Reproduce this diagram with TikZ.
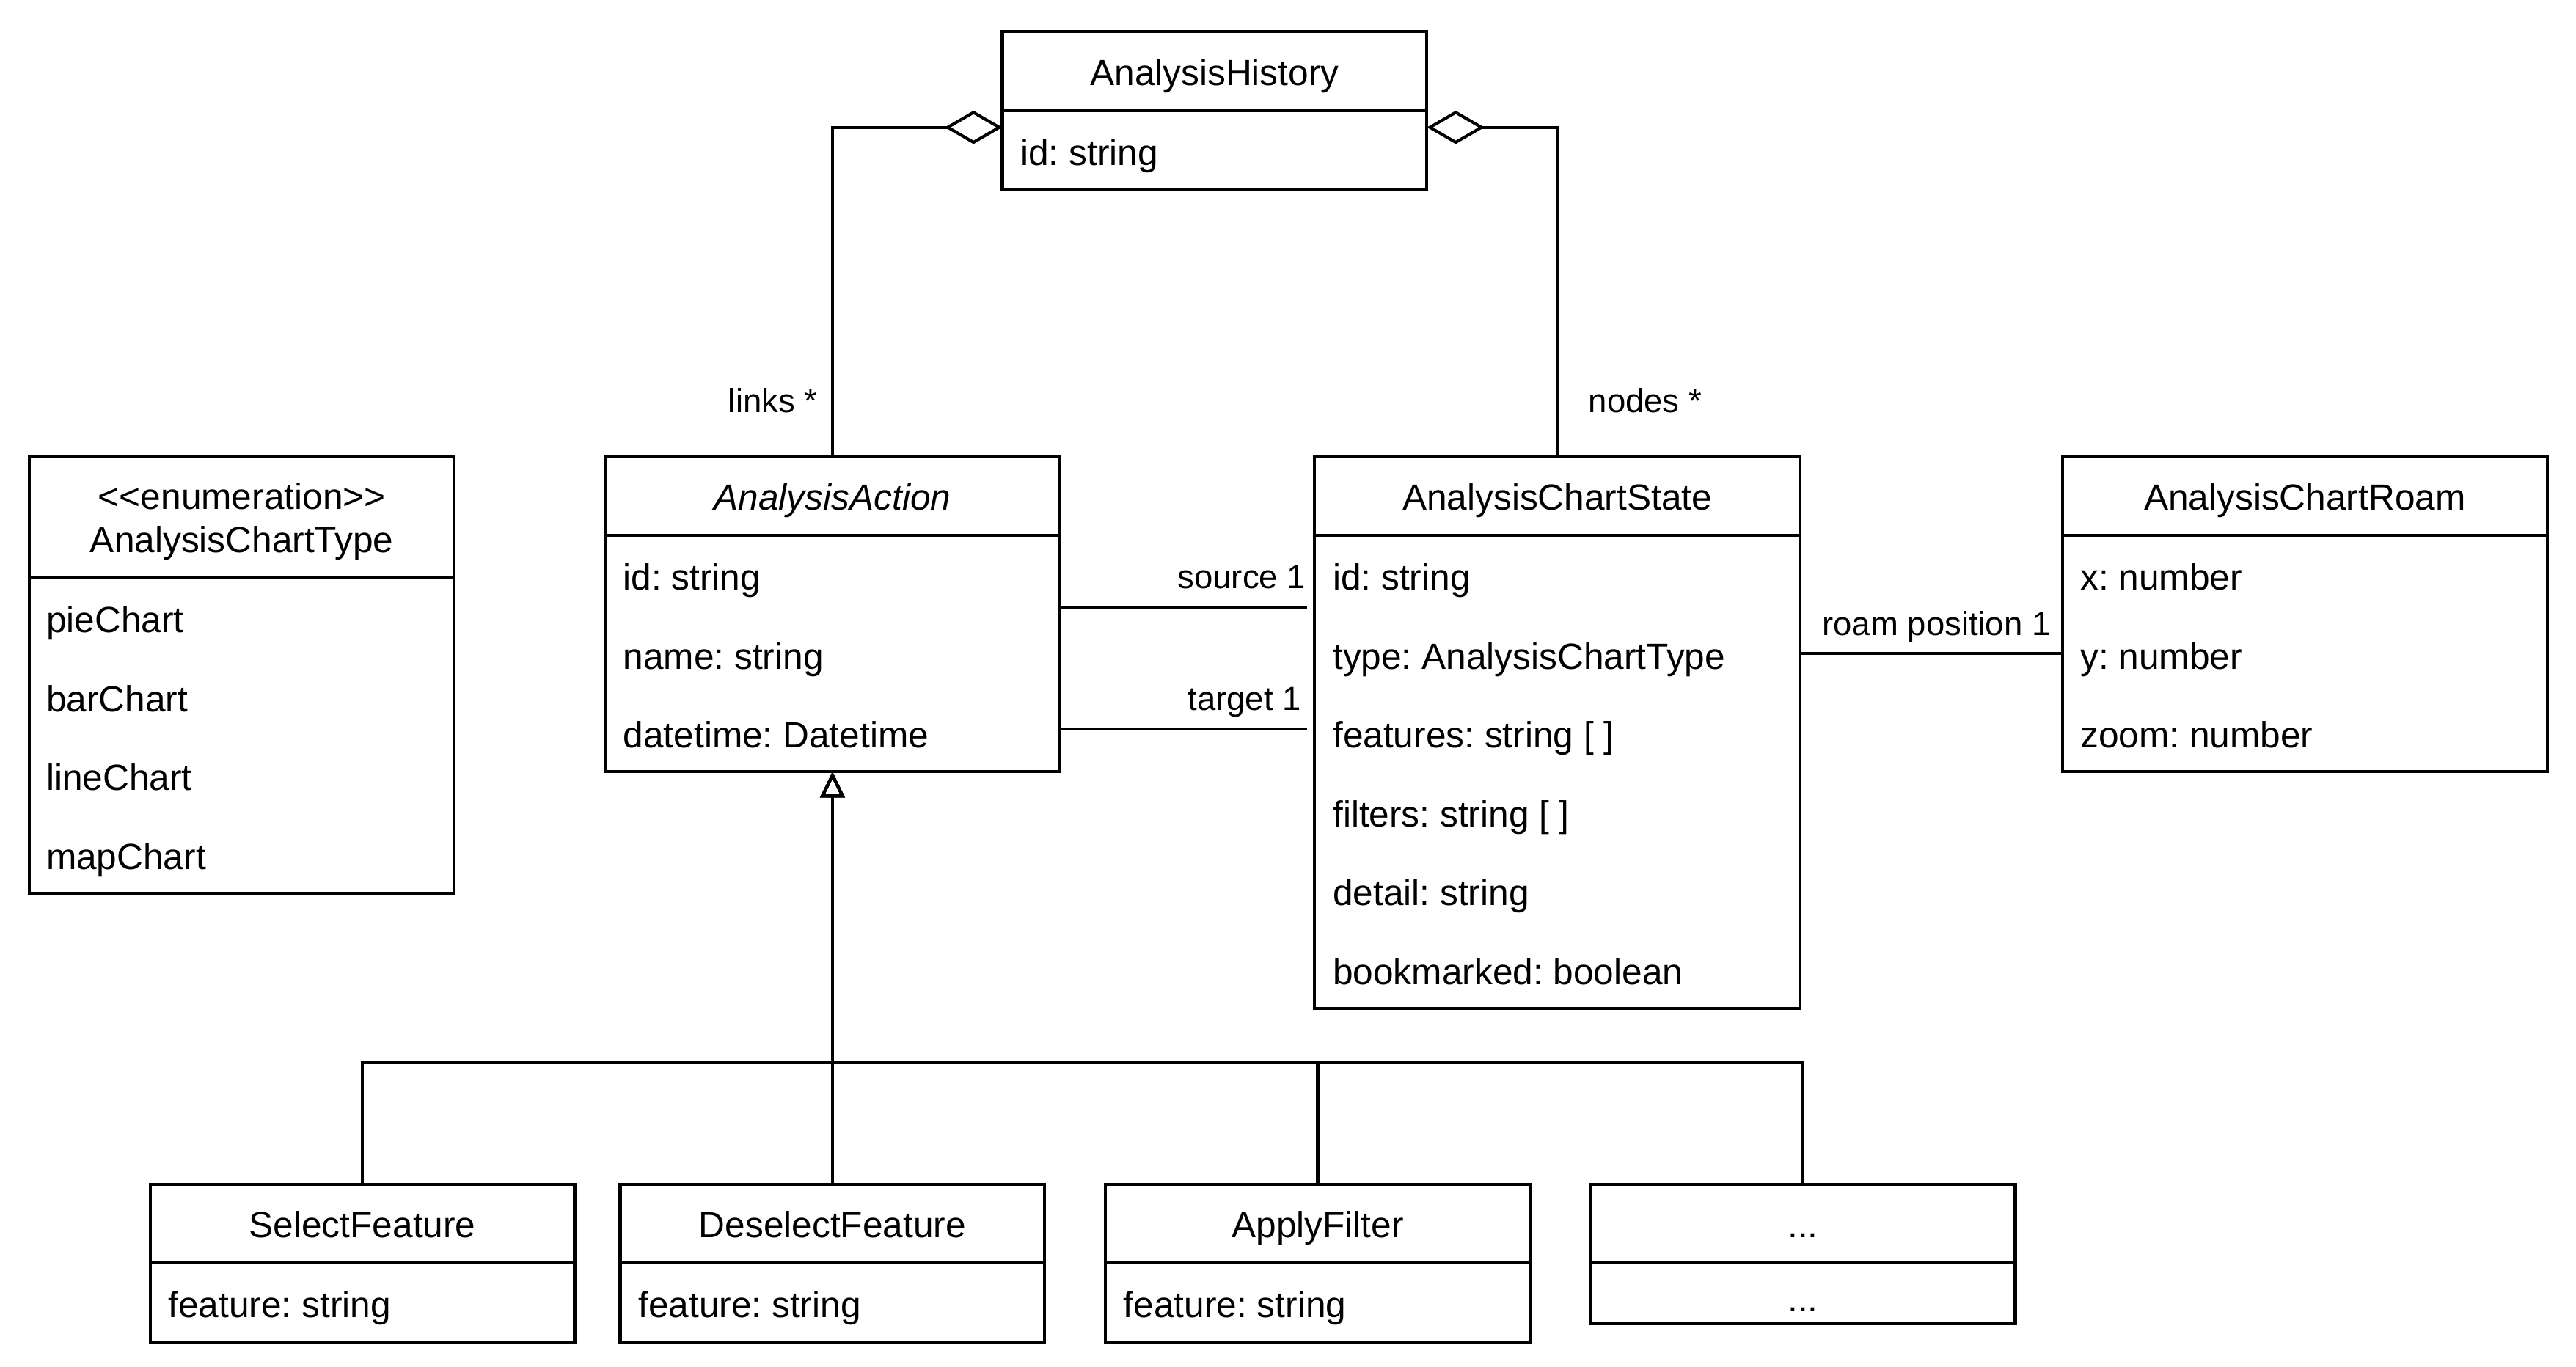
\documentclass[tikz,border=0pt]{standalone}
\usepackage{fontspec}
\setmainfont{Liberation Sans}
\usepackage{tikz}
\usetikzlibrary{arrows.meta,positioning,calc}
\frenchspacing

\begin{document}
\begin{tikzpicture}[x=1pt,y=-1pt,line width=1pt,font=\fontsize{12}{14.3}\selectfont,
  head/.style={draw,outer sep=0pt,inner sep=0pt,minimum height=26pt,text height=11.6pt,text depth=2.4pt},
  body/.style={draw,outer sep=0pt,inner sep=0pt},
  attr/.style={anchor=west,inner sep=0pt,text height=10.6pt,text depth=2.4pt},
  role/.style={inner sep=0pt,font=\fontsize{11}{13}\selectfont,text height=7.9pt,text depth=2.2pt},
  agg/.style={-{Diamond[open,length=19pt,width=11pt]}},
  gen/.style={-{Triangle[open,length=8.5pt,width=8pt]}}]
  \useasboundingbox (0,0) rectangle (849.4,450.7);
  % classes
  \node[head,minimum width=140pt] (ah-head) at (400.5,23.5) {AnalysisHistory};
  \node[body,minimum width=140pt,minimum height=26pt,below=0pt of ah-head] (ah-body) {};
  \node[attr] (ah-id) at (336,50.5) {id: string};

  \node[body,minimum width=140pt,minimum height=40pt] (enum-head) at (79.75,170.5) {};
  \node[inner sep=0pt,align=center] (enum-name) at (79.75,172) {\mbox{<}\mbox{<}enumeration\mbox{>}\mbox{>}\\AnalysisChartType};
  \node[body,minimum width=140pt,minimum height=104pt,below=0pt of enum-head] (enum-body) {};
  \node[attr] (enum-pie) at (14.75,204.5) {pieChart};
  \node[attr] (enum-bar) at (14.75,230.5) {barChart};
  \node[attr] (enum-line) at (14.75,256.5) {lineChart};
  \node[attr] (enum-map) at (14.75,282.5) {mapChart};

  \node[head,minimum width=150pt] (aa-head) at (274.5,163.5) {\textit{AnalysisAction}};
  \node[body,minimum width=150pt,minimum height=78pt,below=0pt of aa-head] (aa-body) {};
  \node[attr] (aa-id) at (205,190.5) {id: string};
  \node[attr] (aa-name) at (205,216.5) {name: string};
  \node[attr] (aa-time) at (205,242.5) {datetime: Datetime};

  \node[head,minimum width=160pt] (acs-head) at (513.5,163.5) {AnalysisChartState};
  \node[body,minimum width=160pt,minimum height=156pt,below=0pt of acs-head] (acs-body) {};
  \node[attr] (acs-id) at (439,190.5) {id: string};
  \node[attr] (acs-type) at (439,216.5) {type: AnalysisChartType};
  \node[attr] (acs-feat) at (439,242.5) {features: string [ ]};
  \node[attr] (acs-filt) at (439,268.5) {filters: string [ ]};
  \node[attr] (acs-detail) at (439,294.5) {detail: string};
  \node[attr] (acs-mark) at (439,320.5) {bookmarked: boolean};

  \node[head,minimum width=160pt] (acr-head) at (760,163.5) {AnalysisChartRoam};
  \node[body,minimum width=160pt,minimum height=78pt,below=0pt of acr-head] (acr-body) {};
  \node[attr] (acr-x) at (685.5,190.5) {x: number};
  \node[attr] (acr-y) at (685.5,216.5) {y: number};
  \node[attr] (acr-zoom) at (685.5,242.5) {zoom: number};

  % subclasses
  \node[head,minimum width=140pt] (sf-head) at (119.5,403.5) {SelectFeature};
  \node[body,minimum width=140pt,minimum height=26pt,below=0pt of sf-head] (sf-body) {};
  \node[attr] (sf-feat) at (55,430.5) {feature: string};
  \node[head,minimum width=140pt] (df-head) at (274.5,403.5) {DeselectFeature};
  \node[body,minimum width=140pt,minimum height=26pt,below=0pt of df-head] (df-body) {};
  \node[attr] (df-feat) at (210,430.5) {feature: string};
  \node[head,minimum width=140pt] (af-head) at (434.5,403.5) {ApplyFilter};
  \node[body,minimum width=140pt,minimum height=26pt,below=0pt of af-head] (af-body) {};
  \node[attr] (af-feat) at (370,430.5) {feature: string};
  \node[head,minimum width=140pt] (etc-head) at (594.5,403.5) {...};
  \node[body,minimum width=140pt,minimum height=20pt,below=0pt of etc-head] (etc-body) {};
  \node[attr,anchor=center] (etc-dots) at (594.5,428.5) {...};

  % aggregations
  \coordinate (ah-l) at (330.5,42);
  \coordinate (ah-r) at (470.5,42);
  \draw[agg] (aa-head.north) |- (ah-l);
  \draw[agg] (acs-head.north) |- (ah-r);
  \node[role,anchor=east] (links) at (270,133.2) {links *};
  \node[role,anchor=west] (nodes) at (523.3,133.2) {nodes *};

  % associations
  \coordinate (src) at (0,200.5);
  \coordinate (tgt) at (0,240.5);
  \coordinate (roam) at (0,215.5);
  \draw[shorten >=2.4pt] (aa-body.east |- src) -- (acs-body.west |- src);
  \draw[shorten >=2.4pt] (aa-body.east |- tgt) -- (acs-body.west |- tgt);
  \draw (acs-body.east |- roam) -- (acr-body.west |- roam);
  \node[role,anchor=east] (source) at (431,191.2) {source 1};
  \node[role,anchor=east] (target) at (429.5,231.5) {target 1};
  \node[role,anchor=east] (roampos) at (676.6,206.6) {roam position 1};

  % generalization
  \coordinate (bus) at (274.5,350.5);
  \draw[gen] (sf-head.north) |- (bus) -- (aa-body.south);
  \draw[gen] (df-head.north) -- (aa-body.south);
  \draw[gen] (af-head.north) |- (bus) -- (aa-body.south);
  \draw[gen] (etc-head.north) |- (bus) -- (aa-body.south);
\end{tikzpicture}
\end{document}
